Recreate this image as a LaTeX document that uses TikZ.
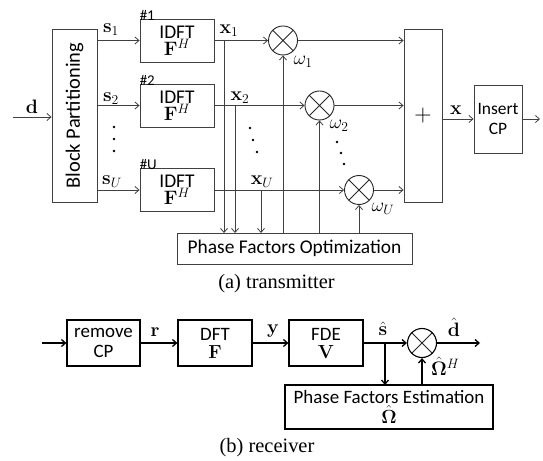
\RequirePackage{fix-cm}
\documentclass[tikz,border=0pt]{standalone}
\usepackage[no-math]{fontspec}
\setmainfont{Liberation Serif}
\newfontfamily\calib{Carlito}
\usetikzlibrary{arrows.meta}
\begin{document}
\begin{tikzpicture}[x=1bp,y=-1bp,
  every node/.style={font=\fontsize{19.5}{22}\selectfont},
  blk/.style={draw=black!75, line width=0.9bp, inner sep=0pt, align=center,
    font=\calib\fontsize{19.5}{21}\selectfont},
  rblk/.style={draw=black, line width=1.2bp, inner sep=0pt, align=center,
    font=\calib\fontsize{19}{21}\selectfont},
  num/.style={font=\calib\fontsize{15}{17}\selectfont, inner sep=0pt},
  mult/.style={circle, draw=black!85, line width=0.9bp, minimum size=29bp, inner sep=0pt,
    path picture={\draw[black!85, line width=0.9bp] (path picture bounding box.north west) -- (path picture bounding box.south east)
      (path picture bounding box.north east) -- (path picture bounding box.south west);}},
  rmult/.style={mult, draw=black, line width=1.1bp},
  arr/.style={-{Straight Barb[length=4bp,width=7bp]}, draw=black!75, line width=0.8bp},
  rarr/.style={-{Straight Barb[length=4bp,width=7bp]}, draw=black, line width=1.3bp},
  dotm/.style={circle, fill=black, inner sep=0pt, minimum size=2.6bp},
  captext/.style={font=\fontsize{20.5}{24}\selectfont}
]
\useasboundingbox (0,0) rectangle (543,461);

% ---------- transmitter ----------
\node[blk, minimum width=45bp, minimum height=173bp, font=\calib\fontsize{20.5}{22}\selectfont] (bp) at (74.5,115.5) {\rotatebox{90}{Block Partitioning}};
\coordinate (din) at (13,117);
\draw[arr] (din) -- (bp.west |- din);
\node at (32,107) {$\mathbf{d}$};

\node[blk, minimum width=74bp, minimum height=43bp] (f1) at (177,40.5) {IDFT\\[-4pt]$\mathbf{F}^H$};
\node[blk, minimum width=74bp, minimum height=43bp] (f2) at (177,105.5) {IDFT\\[-4pt]$\mathbf{F}^H$};
\node[blk, minimum width=74bp, minimum height=43bp] (fU) at (177,190) {IDFT\\[-4pt]$\mathbf{F}^H$};
\node[num, anchor=south west] at ([yshift=-2bp]f1.north west) {\#1};
\node[num, anchor=south west] at ([yshift=-2bp]f2.north west) {\#2};
\node[num, anchor=south west] at ([yshift=-2bp]fU.north west) {\#U};

\draw[arr] (bp.east |- f1) -- (f1.west);
\draw[arr] (bp.east |- f2) -- (f2.west);
\draw[arr] (bp.east |- fU) -- (fU.west);
\node at (111,30) {$\mathbf{s}_1$};
\node at (111,99) {$\mathbf{s}_2$};
\node at (112,182) {$\mathbf{s}_U$};
\node[dotm] at (114,127) {};
\node[dotm] at (114,139) {};
\node[dotm] at (114,151) {};

\node[mult] (m1) at (283,40.5) {};
\node[mult] (m2) at (319.5,105.5) {};
\node[mult] (mU) at (359,190) {};

\draw[arr] (f1.east) -- (m1.west);
\draw[arr] (f2.east) -- (m2.west);
\draw[arr] (fU.east) -- (mU.west);
\node at (229,31) {$\mathbf{x}_1$};
\node at (240,98) {$\mathbf{x}_2$};
\node at (262,182) {$\mathbf{x}_U$};
\node[dotm] at (250,128) {};
\node[dotm] at (253,140) {};
\node[dotm] at (257,152) {};

\node[blk, minimum width=38bp, minimum height=173bp] (sum) at (423,115.5) {};
\node[font=\fontsize{24}{26}\selectfont] at (sum.center) {$+$};
\draw[arr] (m1.east) -- (sum.west |- m1);
\draw[arr] (m2.east) -- (sum.west |- m2);
\draw[arr] (mU.east) -- (sum.west |- mU);

\node[blk, minimum width=48bp, minimum height=68bp, font=\calib\fontsize{17.5}{21}\selectfont] (ins) at (498,119) {Insert\\CP};
\draw[arr] (sum.east |- ins) -- (ins.west);
\node at (456,110) {$\mathbf{x}$};
\coordinate (tout) at (540,119);
\draw[arr] (ins.east) -- (tout);

\node[blk, minimum width=235bp, minimum height=31bp] (pfo) at (294.5,248.5) {Phase Factors Optimization};
\draw[arr] (224,40.5) -- (224,233);
\draw[arr] (235,105.5) -- (235,233);
\draw[arr] (261,190) -- (261,233);
\draw[arr] (m1.south |- pfo.north) -- (m1.south);
\draw[arr] (m2.south |- pfo.north) -- (m2.south);
\draw[arr] (mU.south |- pfo.north) -- (mU.south);
\node at (303,62) {$\omega_1$};
\node at (339,126) {$\omega_2$};
\node at (383,209) {$\omega_U$};
\node[dotm] at (337,142) {};
\node[dotm] at (341,153) {};
\node[dotm] at (344,164) {};

\node[captext] (capa) at (276.5,284) {(a) transmitter};

% ---------- receiver ----------
\node[rblk, minimum width=73bp, minimum height=46bp] (rc) at (103.5,343) {remove\\[-1pt]CP};
\node[rblk, minimum width=74bp, minimum height=46bp] (dft) at (215,343) {DFT\\[-3pt]$\mathbf{F}$};
\node[rblk, minimum width=74bp, minimum height=46bp] (fde) at (326,343) {FDE\\[-3pt]$\mathbf{V}$};
\node[rmult] (rm) at (422,343) {};
\coordinate (rin) at (42,343);
\coordinate (rout) at (480,343);
\draw[rarr] (rin) -- (rc.west);
\draw[rarr] (rc.east) -- (dft.west);
\draw[rarr] (dft.east) -- (fde.west);
\draw[rarr] (fde.east) -- (rm.west);
\draw[rarr] (rm.east) -- (rout);
\node at (155,332) {$\mathbf{r}$};
\node at (273,331) {$\mathbf{y}$};
\node at (383,329) {$\hat{\mathbf{s}}$};
\node at (454,327) {$\hat{\mathbf{d}}$};

\node[rblk, minimum width=208bp, minimum height=44bp] (pfe) at (389,407) {Phase Factors Estimation\\[-1pt]$\hat{\mathbf{\Omega}}$};
\draw[rarr] (385,343) -- (385,385);
\draw[rarr] (rm.south |- pfe.north) -- (rm.south);
\node[anchor=west, inner sep=0pt] at (431,366) {$\hat{\mathbf{\Omega}}^H$};

\node[captext] (capb) at (267,448) {(b) receiver};
\end{tikzpicture}
\end{document}
